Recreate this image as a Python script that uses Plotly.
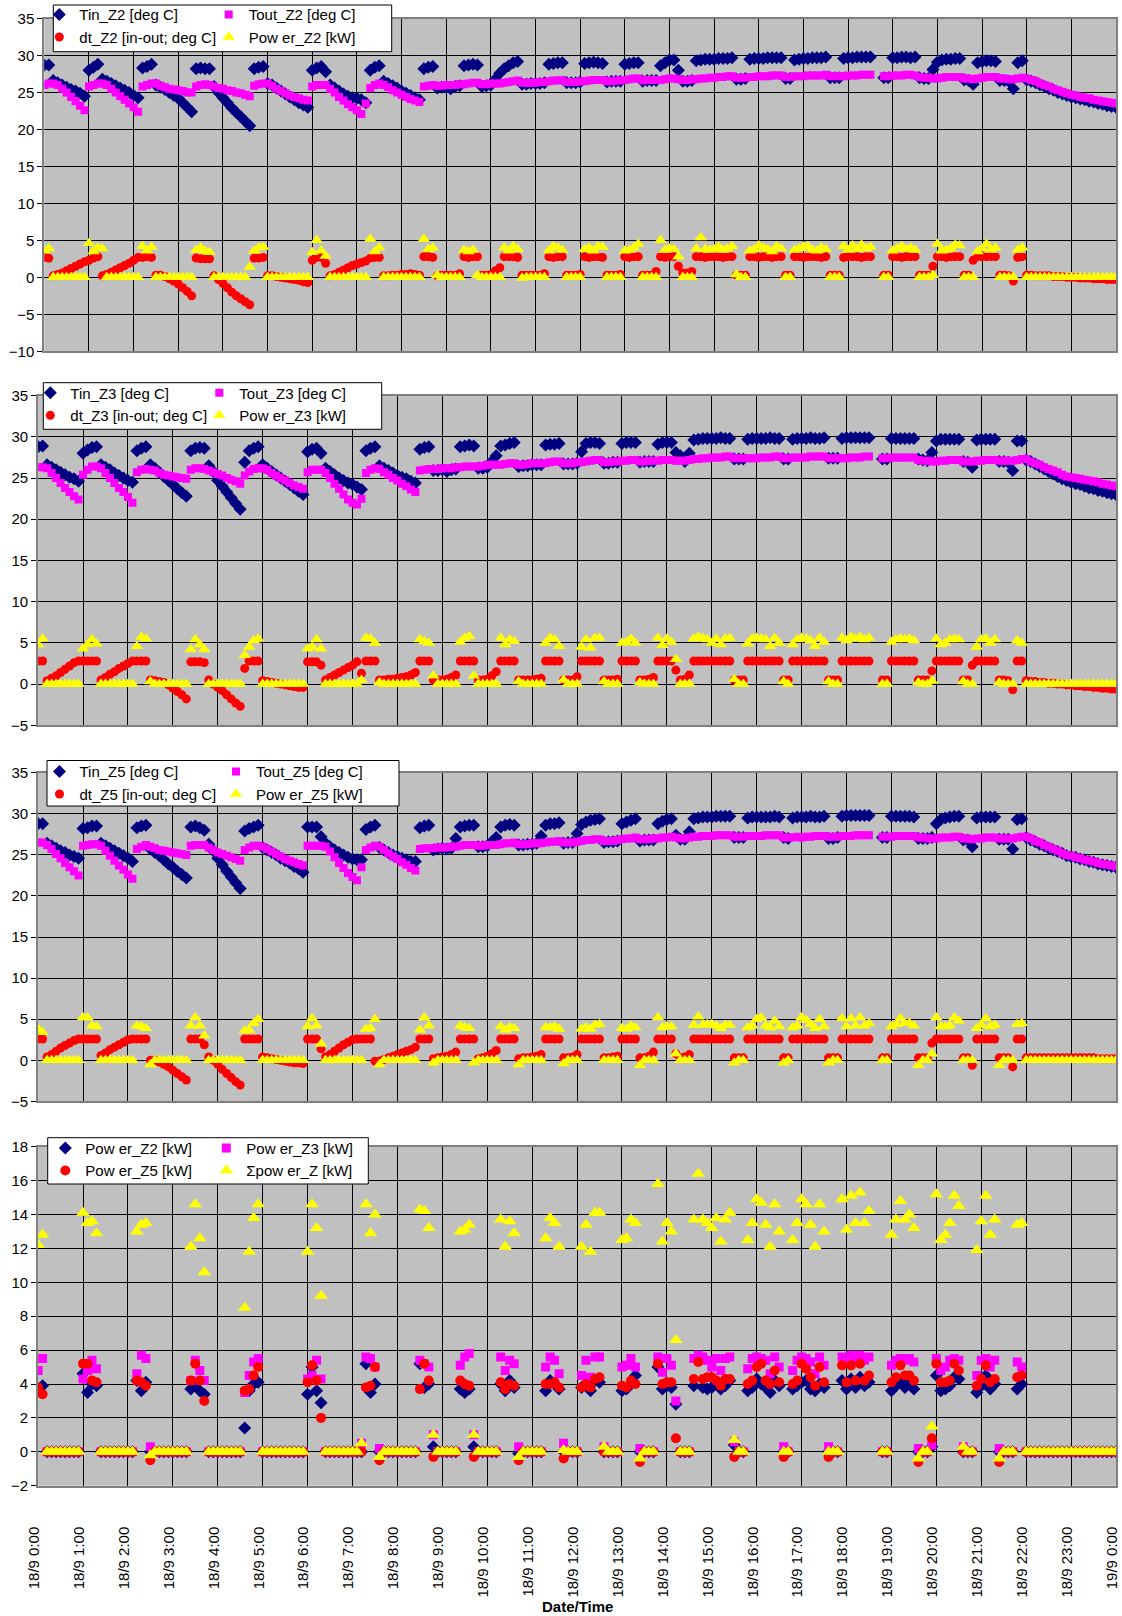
import plotly.graph_objects as go

# ---------------- DATA (6-minute sampling grid) ----------------
# time grid: hours after 18/9 0:00, one sample every 0.1 h (6 min), 0 .. 24
TIME_H = [i / 10 for i in range(241)]

TICK_VALS = list(range(25))
TICK_TEXT = ["18/9 0:00", "18/9 1:00", "18/9 2:00", "18/9 3:00", "18/9 4:00", "18/9 5:00",
             "18/9 6:00", "18/9 7:00", "18/9 8:00", "18/9 9:00", "18/9 10:00", "18/9 11:00",
             "18/9 12:00", "18/9 13:00", "18/9 14:00", "18/9 15:00", "18/9 16:00", "18/9 17:00",
             "18/9 18:00", "18/9 19:00", "18/9 20:00", "18/9 21:00", "18/9 22:00", "18/9 23:00",
             "19/9 0:00"]

# each string = one hour (10 samples); 'n' = no data
Z2_TIN = [
    "28.7 28.7 26.6 26.3 26.0 25.7 25.4 25.2 24.9 24.5",
    "28.0 28.4 28.8 26.8 26.5 26.2 25.9 25.6 25.3 25.0",
    "24.6 24.3 28.3 28.5 28.8 26.0 25.7 25.4 25.0 24.6",
    "24.2 23.6 23.0 22.4 28.2 28.3 28.2 28.2 25.8 25.0",
    "24.3 23.6 22.9 22.3 21.7 21.1 20.5 28.2 28.4 28.5",
    "26.2 26.0 25.6 25.2 24.8 24.4 24.0 23.6 23.3 23.0",
    "28.0 28.3 28.5 27.8 26.0 25.6 25.2 24.8 24.5 24.3",
    "24.2 24.0 23.6 28.0 28.4 28.6 26.5 26.2 25.9 25.6",
    "25.2 24.9 24.6 24.3 24.0 28.2 28.4 28.5 25.6 25.7",
    "25.7 25.5 25.8 25.9 28.6 28.7 28.8 28.7 25.8 25.9",
    "26.0 26.8 27.6 28.2 28.6 29.0 29.2 26.1 26.1 26.2",
    "26.2 26.2 26.3 28.8 28.9 29.0 29.0 26.3 26.3 26.3",
    "26.4 28.9 29.0 29.1 29.0 28.9 26.4 26.5 26.5 26.5",
    "28.8 28.9 29.0 29.0 26.5 26.6 26.6 26.6 28.6 29.0",
    "29.4 29.4 28.0 26.5 26.5 26.6 29.3 29.4 29.5 29.5",
    "29.5 29.6 29.6 29.6 29.7 26.8 26.8 26.9 29.5 29.6",
    "29.6 29.6 29.7 29.7 29.7 29.7 26.9 26.9 29.4 29.5",
    "29.6 29.6 29.7 29.7 29.7 29.8 27.0 27.0 27.0 29.6",
    "29.7 29.7 29.8 29.8 29.8 29.8 n n 27.0 27.0",
    "29.7 29.7 29.8 29.8 29.7 29.8 27.0 26.9 26.9 28.1",
    "29.1 29.4 29.5 29.5 29.6 29.6 26.7 26.6 26.1 29.0",
    "29.2 29.3 29.3 29.2 26.6 26.6 26.5 25.5 29.0 29.3",
    "26.7 26.5 26.3 26.0 25.8 25.5 25.3 25.0 24.8 24.6",
    "24.4 24.3 24.1 24.0 23.8 23.7 23.5 23.4 23.2 23.1",
]
Z2_TIN_END = 23.0
Z2_TOUT = [
    "26.0 26.2 26.2 26.0 25.5 25.0 24.4 23.8 23.2 22.6",
    "25.8 26.0 26.2 26.2 26.0 25.5 25.0 24.5 24.0 23.5",
    "23.0 22.4 25.8 26.0 26.2 26.2 25.9 25.7 25.5 25.4",
    "25.3 25.2 25.0 25.0 25.8 26.0 26.1 26.0 25.8 25.6",
    "25.5 25.3 25.2 25.0 24.9 24.7 24.5 25.9 26.1 26.2",
    "26.2 25.9 25.5 25.2 24.9 24.6 24.4 24.2 24.0 23.9",
    "25.8 26.0 26.0 26.0 25.5 25.0 24.4 23.9 23.4 23.0",
    "22.6 22.1 23.5 25.6 26.0 26.2 26.0 25.7 25.3 25.0",
    "24.7 24.4 24.1 23.9 23.7 25.8 25.9 26.0 25.9 25.9",
    "26.0 26.0 26.0 26.1 26.1 26.2 26.3 26.3 26.1 26.1",
    "26.2 26.2 26.2 26.3 26.4 26.5 26.6 26.3 26.3 26.3",
    "26.3 26.4 26.4 26.5 26.6 26.6 26.7 26.4 26.4 26.4",
    "26.5 26.5 26.6 26.7 26.7 26.7 26.5 26.5 26.6 26.6",
    "26.7 26.8 26.9 26.9 26.6 26.7 26.7 26.7 26.7 26.8",
    "26.9 26.9 26.8 26.7 26.7 26.8 26.8 26.9 26.9 27.0",
    "27.0 27.1 27.1 27.2 27.2 27.0 27.0 27.0 27.1 27.1",
    "27.2 27.2 27.2 27.3 27.3 27.3 27.1 27.1 27.2 27.2",
    "27.2 27.3 27.3 27.3 27.3 27.4 27.2 27.2 27.2 27.2",
    "27.3 27.3 27.3 27.4 27.4 27.4 n n 27.2 27.2",
    "27.3 27.3 27.3 27.4 27.4 27.3 27.1 27.0 27.0 26.9",
    "26.9 27.0 27.1 27.1 27.1 27.1 26.9 26.9 26.8 26.9",
    "27.0 27.1 27.1 27.1 26.9 26.9 26.8 26.8 26.9 27.0",
    "26.9 26.7 26.5 26.2 26.0 25.8 25.5 25.3 25.1 24.9",
    "24.7 24.6 24.4 24.3 24.2 24.0 23.9 23.8 23.7 23.6",
]
Z2_TOUT_END = 23.5
Z2_DT = [
    "2.7 2.6 0.2 0.4 0.6 0.9 1.2 1.5 1.8 2.1",
    "2.3 2.6 2.8 0.2 0.4 0.7 1.0 1.3 1.6 1.9",
    "2.3 2.7 2.7 2.8 2.7 0.3 0.3 0.1 -0.2 -0.5",
    "-0.9 -1.4 -1.9 -2.5 2.6 2.5 2.5 2.5 0.2 -0.3",
    "-0.8 -1.4 -2.0 -2.5 -2.9 -3.3 -3.7 2.6 2.6 2.7",
    "0.2 0.2 0.1 0.0 -0.1 -0.2 -0.3 -0.4 -0.6 -0.7",
    "2.3 2.7 2.7 1.9 0.2 0.4 0.7 1.0 1.3 1.6",
    "1.8 2.0 2.2 2.6 2.7 2.7 0.2 0.2 0.3 0.3",
    "0.4 0.4 0.5 0.4 0.3 2.8 2.8 2.7 0.2 0.3",
    "0.3 0.3 0.3 0.5 2.8 2.7 2.8 2.8 0.3 0.3",
    "0.4 0.9 1.3 2.8 2.8 2.8 2.7 0.3 0.3 0.3",
    "0.3 0.3 0.5 2.8 2.7 2.8 2.8 0.3 0.3 0.3",
    "0.4 2.8 2.7 2.8 2.8 2.7 0.3 0.3 0.3 0.4",
    "2.8 2.7 2.8 2.8 0.3 0.3 0.3 0.8 2.8 2.7",
    "2.8 2.8 1.5 0.6 0.6 0.8 2.8 2.8 2.7 2.8",
    "2.8 2.8 2.7 2.8 2.8 0.3 0.3 0.3 2.8 2.8",
    "2.7 2.8 2.8 2.7 2.8 2.8 0.3 0.3 2.8 2.8",
    "2.7 2.8 2.8 2.8 2.7 2.8 0.3 0.3 0.3 2.7",
    "2.8 2.8 2.8 2.7 2.8 2.8 n n 0.3 0.3",
    "2.8 2.8 2.7 2.8 2.8 2.8 0.3 0.3 0.3 1.5",
    "2.8 2.8 2.7 2.8 2.8 2.8 0.3 0.3 2.3 2.8",
    "2.8 2.8 2.8 2.8 0.3 0.3 0.2 -0.5 2.7 2.8",
    "0.3 0.3 0.2 0.2 0.2 0.2 0.1 0.1 0.1 0.0",
    "0.0 0.0 -0.1 -0.1 -0.1 -0.2 -0.2 -0.2 -0.3 -0.3",
]
Z2_DT_END = -0.3
Z2_PW = [
    "3.6 3.9 0 0 0 0 0 0 0 0",
    "4.6 3.5 4.0 3.9 0 0 0 0 0 0",
    "0 0 4.2 3.6 4.1 0 0 0 0 0",
    "0 0 0 0 3.7 4.0 3.6 3.4 0 0",
    "0 0 0 0 0 0 1.4 3.6 4.0 4.1",
    "0 0 0 0 0 0 0 0 0 0",
    "3.4 5.0 3.6 2.9 0 0 0 0 0 0",
    "0 0 0 5.2 3.5 4.0 0 0 0 0",
    "0 0 0 0 0 5.2 3.8 4.0 0.3 0",
    "0 0 0 0 3.7 3.5 3.7 0.3 0 0",
    "0 0 0 4.0 3.6 4.2 3.8 -0.1 0 0",
    "0 0 0 3.6 4.2 4.0 3.7 0 0 0",
    "0 3.8 4.0 3.6 4.2 4.1 0 0 0 0",
    "3.6 3.7 4.0 4.5 0 0 0 0 5.0 3.7",
    "3.9 3.8 2.8 0 0 0 3.9 5.4 3.8 3.7",
    "3.8 4.1 3.7 3.9 4.2 0.4 0 0 3.6 3.8",
    "4.3 4.0 3.8 3.5 4.2 3.9 0 0 3.7 3.9",
    "4.1 4.2 3.7 3.6 4.0 3.8 0 0 0 4.2",
    "3.7 4.3 3.8 4.4 3.9 4.1 n n 0 0",
    "3.6 3.9 4.2 3.8 4.0 3.7 0 0 0 0.3",
    "4.5 3.6 3.7 3.9 4.4 4.3 0 0 0 3.5",
    "3.9 4.5 3.7 4.0 0 0 0 0 3.7 4.0",
    "0 0 0 0 0 0 0 0 0 0",
    "0 0 0 0 0 0 0 0 0 0",
]
Z2_PW_END = 0

Z3_TIN = [
    "28.8 28.9 26.6 26.3 26.0 25.7 25.4 25.1 24.9 24.6",
    "28.0 28.4 28.7 28.8 26.6 26.3 26.0 25.6 25.3 25.0",
    "24.7 24.5 28.3 28.6 28.8 26.6 26.2 25.7 25.2 24.7",
    "24.2 23.7 23.2 22.8 28.3 28.6 28.7 28.6 26.5 25.8",
    "24.7 24.0 23.3 22.6 21.9 21.2 26.9 28.3 28.6 28.8",
    "26.6 26.2 25.8 25.4 25.0 24.6 24.2 23.8 23.4 23.0",
    "28.2 28.5 28.6 28.0 26.2 25.8 25.4 25.0 24.7 24.4",
    "24.2 23.9 23.6 28.3 28.6 28.8 26.5 26.2 25.9 25.6",
    "25.3 25.1 24.9 24.6 24.4 28.5 28.7 28.8 25.9 25.9",
    "26.0 25.8 26.0 26.1 28.8 28.9 29.0 28.9 26.2 26.2",
    "26.3 27.0 27.7 28.9 29.0 29.2 29.3 26.4 26.5 26.5",
    "26.6 26.6 26.6 29.0 29.1 29.1 29.2 26.7 26.7 26.7",
    "26.8 28.2 29.2 29.3 29.3 29.2 26.8 26.8 26.9 26.9",
    "29.2 29.3 29.3 29.3 26.9 27.0 27.0 27.0 29.1 29.3",
    "29.3 29.3 28.1 27.7 27.0 28.0 29.6 29.7 29.8 29.8",
    "29.8 29.8 29.9 29.8 29.8 27.3 27.3 27.3 29.7 29.8",
    "29.8 29.8 29.8 29.9 29.8 29.8 27.3 27.3 29.7 29.8",
    "29.8 29.8 29.9 29.8 29.8 29.9 27.4 27.4 27.4 29.8",
    "29.9 29.9 29.9 29.9 29.9 29.9 n n 27.3 27.3",
    "29.8 29.8 29.8 29.8 29.8 29.8 27.3 27.2 27.1 28.1",
    "29.5 29.7 29.7 29.7 29.7 29.7 27.0 26.9 26.3 29.6",
    "29.7 29.7 29.7 29.7 27.0 27.0 26.9 25.9 29.5 29.5",
    "27.2 27.0 26.7 26.4 26.1 25.8 25.5 25.2 24.9 24.7",
    "24.5 24.3 24.2 24.0 23.8 23.7 23.5 23.4 23.2 23.1",
]
Z3_TIN_END = 23.0
Z3_TOUT = [
    "26.3 26.3 26.2 25.6 25.0 24.4 23.8 23.3 22.8 22.4",
    "25.4 26.0 26.4 26.4 26.2 25.6 25.0 24.4 23.8 23.3",
    "22.7 22.0 25.7 26.0 26.1 26.0 25.9 25.6 25.4 25.3",
    "25.2 25.1 25.0 24.9 26.0 26.2 26.2 26.1 25.9 25.7",
    "25.5 25.3 25.0 24.8 24.6 24.3 25.3 25.8 26.1 26.2",
    "26.2 26.0 25.6 25.3 25.0 24.7 24.4 24.1 23.9 23.7",
    "25.7 26.0 26.0 26.0 25.6 25.0 24.3 23.7 23.0 22.4",
    "22.0 21.8 22.5 25.6 26.0 26.2 26.1 25.7 25.4 25.0",
    "24.7 24.3 24.0 23.6 23.3 25.9 26.0 26.1 26.1 26.1",
    "26.2 26.2 26.2 26.3 26.3 26.4 26.4 26.4 26.4 26.5",
    "26.6 26.6 26.6 26.6 26.7 26.8 26.8 26.6 26.6 26.7",
    "26.8 26.8 26.8 26.8 26.9 27.0 27.0 26.8 26.8 26.8",
    "26.9 26.9 27.0 27.1 27.2 27.2 26.9 26.9 27.0 27.0",
    "27.1 27.1 27.2 27.2 27.0 27.0 27.1 27.1 27.1 27.2",
    "27.2 27.2 27.1 27.1 27.1 27.2 27.3 27.3 27.4 27.4",
    "27.5 27.5 27.5 27.6 27.6 27.4 27.4 27.4 27.4 27.4",
    "27.4 27.5 27.5 27.5 27.6 27.6 27.4 27.4 27.5 27.5",
    "27.5 27.5 27.6 27.6 27.6 27.6 27.4 27.4 27.4 27.4",
    "27.4 27.5 27.5 27.5 27.6 27.6 n n 27.4 27.4",
    "27.5 27.5 27.5 27.5 27.5 27.5 27.2 27.1 27.1 27.0",
    "27.0 27.1 27.1 27.2 27.2 27.2 27.0 27.0 27.0 27.1",
    "27.1 27.2 27.2 27.2 27.1 27.1 27.1 27.1 27.2 27.3",
    "27.3 27.0 26.8 26.6 26.3 26.1 25.9 25.7 25.4 25.2",
    "25.1 25.0 24.9 24.8 24.7 24.6 24.5 24.3 24.2 24.1",
]
Z3_TOUT_END = 24.0
Z3_DT = [
    "2.8 2.8 0.4 0.7 1.0 1.4 1.8 2.2 2.6 2.8",
    "2.8 2.8 2.8 2.8 0.5 0.8 1.2 1.5 1.9 2.2",
    "2.5 2.8 2.8 2.8 2.8 0.5 0.4 0.3 0.2 -0.1",
    "-0.5 -0.9 -1.3 -1.8 2.7 2.7 2.7 2.6 0.5 0.0",
    "-0.4 -0.8 -1.3 -1.8 -2.3 -2.7 1.9 2.8 2.8 2.8",
    "0.4 0.3 0.2 0.1 0.0 -0.1 -0.2 -0.3 -0.4 -0.4",
    "2.7 2.7 2.7 2.3 0.5 0.8 1.1 1.4 1.7 2.0",
    "2.3 2.7 1.3 2.8 2.8 2.8 0.5 0.5 0.6 0.6",
    "0.7 0.8 0.9 1.1 1.4 2.8 2.8 2.8 0.5 0.5",
    "0.5 0.6 0.8 1.1 2.8 2.8 2.8 2.8 0.5 0.5",
    "0.6 1.0 1.5 2.8 2.8 2.8 2.8 0.5 0.5 0.5",
    "0.5 0.6 0.7 2.8 2.8 2.8 2.8 0.5 0.5 0.5",
    "0.9 2.8 2.8 2.8 2.8 2.8 0.5 0.5 0.5 0.6",
    "2.8 2.8 2.8 2.8 0.5 0.5 0.6 0.8 2.8 2.8",
    "2.8 2.8 1.7 0.5 0.6 1.1 2.8 2.8 2.8 2.8",
    "2.8 2.8 2.8 2.8 2.8 0.5 0.5 0.5 2.8 2.8",
    "2.8 2.8 2.8 2.8 2.8 2.8 0.5 0.5 2.8 2.8",
    "2.8 2.8 2.8 2.8 2.8 2.8 0.5 0.5 0.5 2.8",
    "2.8 2.8 2.8 2.8 2.8 2.8 n n 0.5 0.5",
    "2.8 2.8 2.8 2.8 2.8 2.8 0.5 0.5 0.5 1.6",
    "2.8 2.8 2.8 2.8 2.8 2.8 0.5 0.5 2.3 2.8",
    "2.8 2.8 2.8 2.8 0.5 0.5 0.4 -0.7 2.8 2.8",
    "0.4 0.3 0.3 0.2 0.2 0.1 0.1 0.0 0.0 -0.1",
    "-0.1 -0.2 -0.2 -0.3 -0.3 -0.4 -0.4 -0.5 -0.5 -0.6",
]
Z3_DT_END = -0.6
Z3_PW = [
    "4.8 5.5 0 0 0 0 0 0 0 0",
    "4.3 4.8 5.4 4.9 0 0 0 0 0 0",
    "0 0 4.6 5.7 5.5 0.3 0 0 0 0",
    "0 0 0 0 4.2 5.4 4.8 4.2 0 0",
    "0 0 0 0 0 0 3.5 4.5 5.3 5.5",
    "0 0 0 0 0 0 0 0 0 0",
    "4.3 4.5 5.4 4.3 0 0 0 0 0 0",
    "0 0 0.5 5.6 5.5 5.0 0.2 0 0 0",
    "0 0 0 0 0 5.4 5.2 5.0 1.0 0",
    "0 0 0 0 5.1 5.6 5.8 1.0 0 0",
    "0 0 0 5.6 4.8 5.4 5.2 0.3 0 0",
    "0 0 0 5.0 5.6 5.4 4.6 0.5 0 0",
    "0 4.5 5.4 4.4 5.6 5.6 0.3 0 0 0",
    "5.0 5.1 5.5 5.0 0.2 0 0 0 5.6 4.7",
    "5.5 5.1 3.0 0 0 0 5.5 5.7 5.6 5.4",
    "5.0 5.5 4.8 5.5 5.6 0.6 0 0 4.9 5.5",
    "5.6 5.5 5.4 4.6 5.6 5.0 0.3 0 4.8 5.4",
    "5.6 5.5 5.3 4.6 5.6 5.1 0.3 0 0 5.6",
    "5.3 5.7 5.5 5.7 5.4 5.6 n n 0 0",
    "5.1 5.4 5.5 5.4 5.5 5.3 0.2 0 0 0.4",
    "5.5 4.8 5.0 5.4 5.5 5.4 0.3 0 0 4.5",
    "5.4 5.5 5.0 5.4 0.2 0 0 0 5.3 5.0",
    "0 0 0 0 0 0 0 0 0 0",
    "0 0 0 0 0 0 0 0 0 0",
]
Z3_PW_END = 0

Z5_TIN = [
    "28.8 28.8 26.4 26.1 25.8 25.5 25.3 25.0 24.8 24.6",
    "28.2 28.3 28.5 28.5 26.4 26.1 25.8 25.5 25.2 24.9",
    "24.6 24.2 28.3 28.5 28.6 25.7 25.3 24.9 24.4 23.9",
    "23.5 23.0 22.6 22.2 28.4 28.5 28.3 28.0 26.3 25.5",
    "24.6 23.8 23.0 22.3 21.6 20.9 27.9 28.2 28.4 28.6",
    "25.9 25.6 25.3 25.0 24.6 24.3 24.0 23.6 23.3 22.9",
    "28.4 28.4 28.4 27.2 26.4 26.0 25.6 25.3 25.0 24.7",
    "24.5 24.4 24.4 28.1 28.4 28.6 25.9 25.6 25.3 25.0",
    "24.8 24.6 24.4 24.2 24.2 28.3 28.5 28.6 25.6 25.7",
    "25.8 25.7 25.8 27.0 28.4 28.5 28.6 28.6 26.0 26.0",
    "26.1 26.6 27.1 28.4 28.6 28.7 28.6 26.2 26.2 26.3",
    "26.3 26.4 27.3 28.6 28.8 28.8 28.9 26.4 26.5 26.5",
    "27.6 28.7 29.0 29.2 29.3 29.4 26.5 26.6 26.6 26.7",
    "28.8 29.0 29.2 29.4 26.7 26.8 26.8 26.8 28.8 29.1",
    "29.3 29.4 27.4 26.9 26.9 27.8 29.4 29.5 29.6 29.6",
    "29.6 29.7 29.7 29.7 29.7 27.1 27.1 27.1 29.5 29.6",
    "29.6 29.6 29.6 29.6 29.7 29.6 27.1 27.0 29.5 29.6",
    "29.6 29.6 29.7 29.6 29.6 29.7 27.0 27.0 27.1 29.7",
    "29.8 29.8 29.8 29.8 29.8 29.8 n n 27.1 27.1",
    "29.7 29.7 29.7 29.7 29.7 29.6 27.0 27.0 27.0 27.1",
    "28.8 29.3 29.5 29.6 29.7 29.7 26.8 26.8 26.0 29.5",
    "29.6 29.6 29.6 29.6 26.9 26.9 26.9 25.7 29.3 29.4",
    "27.1 26.8 26.6 26.3 26.1 25.8 25.6 25.4 25.2 24.9",
    "24.8 24.7 24.5 24.4 24.2 24.1 23.9 23.8 23.7 23.6",
]
Z5_TIN_END = 23.5
Z5_TOUT = [
    "26.5 26.5 26.2 25.7 25.1 24.6 24.0 23.5 23.0 22.5",
    "26.1 26.2 26.3 26.3 26.1 25.5 24.9 24.3 23.7 23.2",
    "22.6 22.1 25.7 26.0 26.2 26.0 25.8 25.6 25.5 25.4",
    "25.3 25.2 25.1 25.0 26.1 26.2 26.2 26.2 25.9 25.6",
    "25.3 25.1 24.9 24.7 24.5 24.3 25.6 25.9 26.1 26.1",
    "26.0 25.7 25.4 25.1 24.8 24.5 24.3 24.1 23.9 23.7",
    "26.1 26.1 26.1 26.1 26.0 25.4 24.7 24.0 23.4 22.8",
    "22.3 21.9 23.5 25.6 25.9 26.1 26.0 25.6 25.2 24.8",
    "24.5 24.1 23.8 23.4 23.1 25.7 25.8 25.8 25.8 25.9",
    "25.9 25.9 26.0 26.0 26.1 26.2 26.2 26.2 26.1 26.1",
    "26.2 26.2 26.2 26.3 26.4 26.4 26.5 26.3 26.3 26.3",
    "26.4 26.4 26.4 26.5 26.6 26.6 26.7 26.5 26.5 26.5",
    "26.6 26.7 26.8 26.8 26.9 26.9 26.7 26.7 26.7 26.8",
    "26.9 27.0 27.0 27.1 26.9 26.9 26.9 27.0 27.0 27.1",
    "27.1 27.2 27.1 27.0 27.0 27.1 27.2 27.2 27.3 27.3",
    "27.3 27.4 27.4 27.4 27.4 27.2 27.2 27.2 27.3 27.3",
    "27.3 27.3 27.4 27.4 27.4 27.4 27.1 27.1 27.1 27.2",
    "27.1 27.2 27.2 27.3 27.3 27.3 27.2 27.2 27.2 27.3",
    "27.3 27.3 27.4 27.4 27.4 27.4 n n 27.2 27.2",
    "27.2 27.3 27.3 27.3 27.3 27.3 27.1 27.1 27.0 27.0",
    "27.0 27.1 27.1 27.1 27.2 27.2 27.0 27.0 26.9 27.0",
    "27.0 27.1 27.1 27.1 27.0 27.0 27.0 27.0 27.1 27.2",
    "27.2 27.0 26.7 26.5 26.2 26.0 25.7 25.5 25.2 25.0",
    "24.9 24.7 24.6 24.4 24.3 24.2 24.0 23.9 23.8 23.7",
]
Z5_TOUT_END = 23.6
Z5_DT = [
    "2.6 2.6 0.4 0.7 1.1 1.5 1.8 2.1 2.4 2.6",
    "2.6 2.6 2.6 2.6 0.6 0.9 1.3 1.6 1.9 2.2",
    "2.5 2.6 2.6 2.6 2.6 0.0 0.0 -0.2 -0.5 -0.8",
    "-1.2 -1.6 -2.0 -2.4 2.6 2.6 2.6 1.9 0.4 0.0",
    "-0.5 -1.1 -1.6 -2.1 -2.6 -3.0 2.6 2.6 2.6 2.6",
    "0.4 0.3 0.2 0.1 0.0 -0.1 -0.2 -0.3 -0.3 -0.4",
    "2.6 2.6 2.6 1.4 0.4 0.7 1.1 1.5 1.9 2.2",
    "2.5 2.6 2.6 2.6 2.6 -0.1 -0.1 0.1 0.3 0.5",
    "0.7 0.9 1.1 1.3 1.6 2.6 2.6 2.6 0.2 0.3",
    "0.4 0.5 0.7 1.0 2.6 2.6 2.6 2.6 0.2 0.3",
    "0.5 0.8 1.2 2.6 2.6 2.6 2.6 0.2 0.3 0.3",
    "0.4 0.5 0.7 2.6 2.6 2.6 2.6 0.3 0.3 0.4",
    "0.7 2.6 2.6 2.6 2.6 2.6 0.3 0.3 0.4 0.5",
    "2.6 2.6 2.6 2.6 0.3 0.3 0.5 1.0 2.6 2.6",
    "2.6 2.6 0.8 0.3 0.4 0.7 2.6 2.6 2.6 2.6",
    "2.6 2.6 2.6 2.6 2.6 0.3 0.3 0.3 2.6 2.6",
    "2.6 2.6 2.6 2.6 2.6 2.6 0.3 0.3 2.6 2.6",
    "2.6 2.6 2.6 2.6 2.6 2.6 0.3 0.3 0.3 2.6",
    "2.6 2.6 2.6 2.6 2.6 2.6 n n 0.3 0.3",
    "2.6 2.6 2.6 2.6 2.6 2.6 0.3 0.3 0.3 2.1",
    "2.6 2.6 2.6 2.6 2.6 2.6 0.3 0.3 -0.6 2.6",
    "2.6 2.6 2.6 2.6 0.3 0.3 0.3 -0.8 2.6 2.6",
    "0.3 0.3 0.3 0.3 0.3 0.3 0.3 0.3 0.3 0.3",
    "0.3 0.3 0.3 0.3 0.3 0.3 0.2 0.2 0.2 0.2",
]
Z5_DT_END = 0.2
Z5_PW = [
    "3.8 3.4 0 0 0 0 0 0 0 0",
    "5.2 5.2 4.2 4.1 0 0 0 0 0 0",
    "0 0 4.2 4.1 3.9 -0.5 0 0 0 0",
    "0 0 0 0 4.2 5.2 4.2 3.0 0 0",
    "0 0 0 0 0 0 3.6 3.7 4.5 5.0",
    "0 0 0 0 0 0 0 0 0 0",
    "4.1 5.1 4.2 2.0 0 0 0 0 0 0",
    "0 0 0 3.8 3.9 5.0 -0.5 0 0 0",
    "0 0 0 0 0 3.7 5.2 4.2 -0.3 0",
    "0 0 0 0 4.2 4.0 3.9 -0.3 0 0",
    "0 0 0 4.1 3.7 4.0 3.9 -0.5 0 0",
    "0 0 0 4.0 4.0 4.1 3.8 -0.4 0 0",
    "0 3.8 4.0 3.8 4.3 4.4 0 0 0 0",
    "3.9 3.8 4.2 4.0 -0.6 0 0 0 5.2 4.0",
    "4.1 4.1 0.8 0 0 0 4.3 5.3 4.3 4.4",
    "4.4 4.2 3.9 4.3 4.3 -0.3 0 0 4.0 4.2",
    "5.0 5.2 4.2 4.0 4.8 4.1 -0.3 0 4.0 4.2",
    "5.2 4.9 4.4 3.9 5.0 4.1 -0.3 0 0 5.1",
    "4.1 5.1 4.2 5.2 4.2 4.5 n n 0 0",
    "4.1 4.4 5.1 4.5 4.5 4.2 -0.6 0 0 0.8",
    "5.2 4.1 4.1 4.2 5.2 4.8 0 0 0 3.9",
    "4.3 5.1 4.1 4.3 -0.6 0 0 0 4.4 4.5",
    "0 0 0 0 0 0 0 0 0 0",
    "0 0 0 0 0 0 0 0 0 0",
]
Z5_PW_END = 0


def parse(rows, end):
    out = []
    for r in rows:
        toks = r.split()
        if len(toks) != 10:
            raise ValueError("bad row: " + r)
        out.extend(None if t == "n" else float(t) for t in toks)
    out.append(end)
    return out


z2 = [parse(Z2_TIN, Z2_TIN_END), parse(Z2_TOUT, Z2_TOUT_END), parse(Z2_DT, Z2_DT_END), parse(Z2_PW, Z2_PW_END)]
z3 = [parse(Z3_TIN, Z3_TIN_END), parse(Z3_TOUT, Z3_TOUT_END), parse(Z3_DT, Z3_DT_END), parse(Z3_PW, Z3_PW_END)]
z5 = [parse(Z5_TIN, Z5_TIN_END), parse(Z5_TOUT, Z5_TOUT_END), parse(Z5_DT, Z5_DT_END), parse(Z5_PW, Z5_PW_END)]
# total power = sum of the three zone powers
p_sum = [None if None in (a, b, c) else round(a + b + c, 2) for a, b, c in zip(z2[3], z3[3], z5[3])]

# ---------------- STYLE / LAYOUT ----------------
W, H = 1122, 1616
FONT = "Liberation Sans, Arial, sans-serif"
NAVY, MAG, RED, YEL = "#000080", "#FF00FF", "#FF0000", "#FFFF00"


def fx(px):
    return px / W


def fy(py):
    return 1 - py / H


# pixel geometry of the four plot areas: (left, right, top, bottom)
PANELS = [
    (44.3, 1116, 18.5, 351.3, [-10, 35], 5),
    (38.1, 1116, 395.6, 725.3, [-5, 35], 5),
    (38.1, 1116, 772.7, 1101.4, [-5, 35], 5),
    (38.1, 1116, 1146.7, 1485.7, [-2, 18], 2),
]

fig = go.Figure()

STY = [("diamond", NAVY, 10), ("square", MAG, 8), ("circle", RED, 9), ("triangle-up", YEL, 11)]
STY4 = [("diamond", NAVY, 10), ("square", MAG, 9), ("circle", RED, 10), ("triangle-up", YEL, 12)]

panel_series = [
    (z2, ["Tin_Z2 [deg C]", "Tout_Z2 [deg C]", "dt_Z2 [in-out; deg C]", "Pow er_Z2 [kW]"], STY),
    (z3, ["Tin_Z3 [deg C]", "Tout_Z3 [deg C]", "dt_Z3 [in-out; deg C]", "Pow er_Z3 [kW]"], STY),
    (z5, ["Tin_Z5 [deg C]", "Tout_Z5 [deg C]", "dt_Z5 [in-out; deg C]", "Pow er_Z5 [kW]"], STY),
    ([z2[3], z3[3], z5[3], p_sum], ["Pow er_Z2 [kW]", "Pow er_Z3 [kW]", "Pow er_Z5 [kW]", "\u03a3pow er_Z [kW]"], STY4),
]
# legend column for each series: col1 = Tin/dt (or Z2/Z5), col2 = Tout/Power (or Z3/Sum)
COL = [0, 1, 0, 1]

for p, (series, names, sty) in enumerate(panel_series):
    ax = "" if p == 0 else str(p + 1)
    for k in range(4):
        sym, col, size = sty[k]
        leg_id = 2 * p + COL[k] + 1
        fig.add_trace(go.Scatter(
            x=TIME_H, y=series[k], mode="markers", name=names[k],
            marker=dict(symbol=sym, color=col, size=size, line=dict(width=0)),
            xaxis="x" + ax, yaxis="y" + ax,
            legend="legend" if leg_id == 1 else "legend%d" % leg_id,
            hoverinfo="skip",
        ))

layout = dict(
    width=W, height=H, margin=dict(l=0, r=0, t=0, b=0, autoexpand=False),
    paper_bgcolor="white", plot_bgcolor="#C0C0C0",
    font=dict(family=FONT, size=15, color="black"),
    showlegend=True,
)

for p, (l, r, t, b, yr, dt) in enumerate(PANELS):
    ax = "" if p == 0 else str(p + 1)
    xa = dict(domain=[fx(l), fx(r)], range=[0, 24], anchor="y" + ax,
              tickvals=TICK_VALS, ticktext=TICK_TEXT,
              showgrid=True, gridcolor="black", gridwidth=1, zeroline=False,
              showline=True, mirror=True, linecolor="#808080", linewidth=2,
              ticks="", showticklabels=(p == 3), fixedrange=True, automargin=False)
    if p == 3:
        xa.update(tickangle=-90, tickfont=dict(family=FONT, size=15, color="black"),
                  ticklabelstandoff=33, ticklabelshift=-4, ticklabeloverflow="allow")
    ya = dict(domain=[fy(b), fy(t)], range=yr, dtick=dt, tick0=0, anchor="x" + ax,
              showgrid=True, gridcolor="black", gridwidth=1, zeroline=False,
              showline=True, mirror=True, linecolor="#808080", linewidth=2,
              ticks="outside", ticklen=5, tickcolor="black",
              tickfont=dict(family=FONT, size=15, color="black"), fixedrange=True,
              automargin=False)
    layout["xaxis" + ax] = xa
    layout["yaxis" + ax] = ya

# legend boxes (pixels): box rect, text-start x for col1 & col2, first row centre y
LEG = [
    ((53.3, 391.7, 5.0, 51.7), 77.3, 246.7, 15.0),
    ((43.3, 381.7, 382.7, 429.3), 68.3, 237.3, 393.3),
    ((47.0, 399.0, 760.5, 806.0), 77.5, 254.0, 772.0),
    ((47.7, 368.3, 1137.7, 1184.0), 83.3, 244.3, 1148.5),
]
shapes = []
for p, (box, tx1, tx2, row1) in enumerate(LEG):
    x0, x1, y0, y1 = box
    shapes.append(dict(type="rect", xref="paper", yref="paper",
                       x0=fx(x0), x1=fx(x1), y0=fy(y1), y1=fy(y0),
                       fillcolor="white", line=dict(color="black", width=1), layer="above"))
    for c, tx in enumerate((tx1, tx2)):
        leg_id = 2 * p + c + 1
        key = "legend" if leg_id == 1 else "legend%d" % leg_id
        layout[key] = dict(x=fx(tx - 38), y=fy(row1 - 16.7), xanchor="left", yanchor="top",
                           bgcolor="rgba(0,0,0,0)", borderwidth=0, tracegroupgap=0,
                           font=dict(family=FONT, size=15, color="black"),
                           itemsizing="trace", orientation="v")
layout["shapes"] = shapes
layout["annotations"] = [dict(text="<b>Date/Time</b>", xref="paper", yref="paper",
                              x=fx(577), y=fy(1606), xanchor="center", yanchor="middle",
                              showarrow=False,
                              font=dict(family=FONT, size=15, color="black"))]

fig.update_layout(**layout)
fig.write_html("out.html", include_plotlyjs=True, config={"displayModeBar": False})
